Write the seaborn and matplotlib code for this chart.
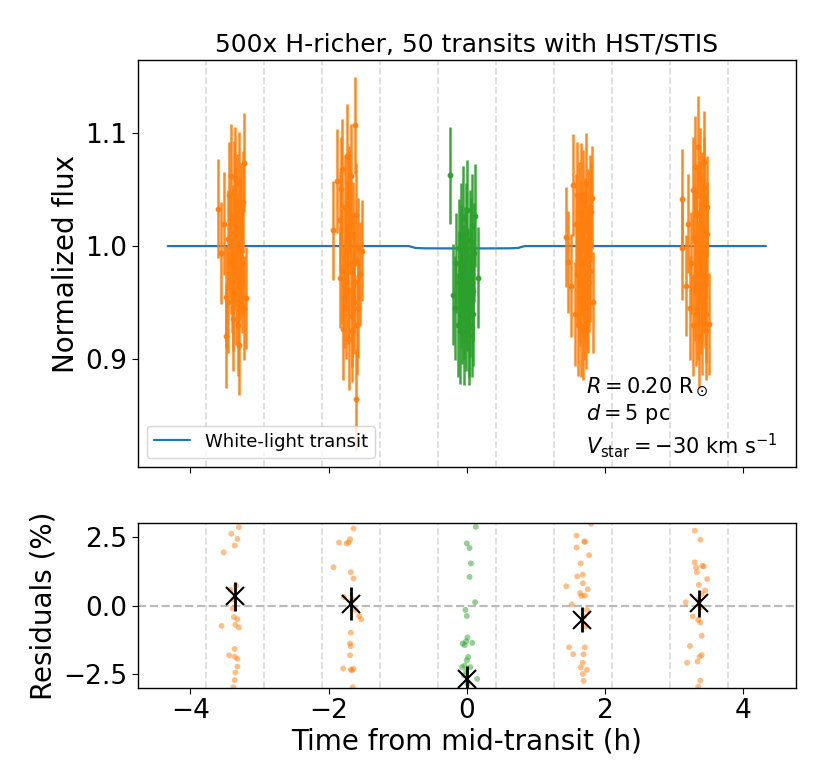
import numpy as np
import pandas as pd
import matplotlib
matplotlib.use("Agg")
import matplotlib.pyplot as plt
import seaborn as sns

# ---------------- data ----------------
title = "500x H-richer, 50 transits with HST/STIS"

# white-light transit model
t_model = [-4.33, -0.84, -0.74, -0.60, 0.00, 0.60, 0.74, 0.84, 4.33]
f_model = [1.0000, 1.0000, 0.9983, 0.9980, 0.9979, 0.9980, 0.9983, 1.0000, 1.0000]

# orbit boundaries (dashed lines)
boundaries = [-3.78, -2.94, -2.10, -1.26, -0.42, 0.42, 1.26, 2.10, 2.94, 3.78]

# orbit 1
t1 = [-3.60, -3.56, -3.51, -3.48, -3.48, -3.46, -3.46, -3.44, -3.42, -3.41, -3.40, -3.39, -3.38, -3.37, -3.36,
      -3.35, -3.34, -3.33, -3.32, -3.31, -3.30, -3.30, -3.29, -3.28, -3.27, -3.26, -3.24, -3.23, -3.22, -3.20,
      -3.43, -3.39, -3.35, -3.31, -3.27, -3.25]
f1 = [1.033, 0.994, 1.020, 0.955, 0.920, 1.006, 0.950, 1.045, 0.985, 1.062, 0.968, 1.010, 0.935, 1.048, 0.990,
      1.025, 0.958, 1.038, 1.002, 0.972, 0.912, 1.056, 0.980, 1.015, 0.996, 0.969, 1.039, 1.074, 0.945, 0.954,
      1.000, 0.952, 1.060, 0.930, 1.030, 0.985]
e1 = [0.044, 0.045, 0.046, 0.045, 0.046, 0.044, 0.045, 0.047, 0.045, 0.046, 0.045, 0.044, 0.046, 0.045, 0.047,
      0.045, 0.046, 0.044, 0.045, 0.046, 0.044, 0.045, 0.046, 0.045, 0.044, 0.046, 0.045, 0.044, 0.046, 0.045,
      0.046, 0.045, 0.046, 0.045, 0.044, 0.046]

# orbit 2
t2 = [-1.93, -1.88, -1.84, -1.83, -1.82, -1.81, -1.80, -1.79, -1.77, -1.76, -1.75, -1.74, -1.73, -1.72, -1.71,
      -1.70, -1.69, -1.68, -1.67, -1.66, -1.65, -1.64, -1.63, -1.62, -1.61, -1.60, -1.59, -1.57, -1.55, -1.52,
      -1.78, -1.74, -1.70, -1.66, -1.63, -1.58]
f2 = [1.014, 1.058, 0.972, 1.023, 1.051, 1.068, 0.978, 0.926, 1.035, 0.990, 0.945, 1.080, 1.002, 0.960, 1.045,
      0.918, 1.020, 0.985, 1.062, 0.938, 1.010, 0.968, 0.950, 1.107, 0.864, 1.028, 0.930, 0.998, 0.975, 0.996,
      0.955, 1.012, 1.040, 0.925, 0.985, 0.945]
e2 = [0.044, 0.046, 0.045, 0.044, 0.046, 0.045, 0.047, 0.045, 0.046, 0.044, 0.045, 0.046, 0.045, 0.047, 0.044,
      0.046, 0.045, 0.044, 0.046, 0.045, 0.047, 0.045, 0.046, 0.043, 0.045, 0.046, 0.044, 0.045, 0.046, 0.045,
      0.045, 0.046, 0.044, 0.046, 0.045, 0.044]

# orbit 3 (in transit)
t3 = [-0.24, -0.20, -0.17, -0.15, -0.13, -0.12, -0.11, -0.10, -0.09, -0.08, -0.07, -0.06, -0.05, -0.04, -0.03,
      -0.02, -0.01, 0.00, 0.01, 0.02, 0.03, 0.04, 0.05, 0.06, 0.07, 0.08, 0.09, 0.10, 0.12, 0.16,
      -0.085, -0.045, -0.015, 0.025, 0.055, 0.085]
f3 = [1.063, 0.957, 0.945, 0.985, 0.930, 0.968, 0.998, 0.925, 0.955, 1.010, 0.940, 0.975, 1.025, 0.922, 0.962,
      0.990, 0.935, 1.032, 0.952, 0.970, 0.921, 1.005, 0.948, 0.980, 0.928, 1.018, 0.960, 0.994, 1.027, 0.972,
      0.990, 0.945, 1.012, 0.930, 0.998, 0.940]
e3 = [0.043, 0.045, 0.046, 0.044, 0.046, 0.045, 0.044, 0.047, 0.045, 0.046, 0.045, 0.044, 0.046, 0.045, 0.047,
      0.045, 0.046, 0.044, 0.045, 0.046, 0.044, 0.045, 0.046, 0.045, 0.044, 0.046, 0.045, 0.044, 0.046, 0.045,
      0.046, 0.045, 0.044, 0.046, 0.045, 0.046]

# orbit 4
t4 = [1.43, 1.47, 1.51, 1.54, 1.56, 1.58, 1.59, 1.60, 1.61, 1.62, 1.63, 1.64, 1.65, 1.66, 1.67,
      1.68, 1.69, 1.70, 1.71, 1.72, 1.73, 1.74, 1.75, 1.76, 1.77, 1.78, 1.79, 1.80, 1.81, 1.83,
      1.625, 1.655, 1.685, 1.715, 1.745, 1.775]
f4 = [1.008, 0.986, 0.965, 1.054, 0.940, 1.020, 0.975, 1.045, 0.930, 0.998, 1.030, 0.955, 1.012, 0.929, 0.985,
      1.040, 0.945, 1.005, 0.962, 1.056, 0.935, 0.990, 1.022, 0.950, 0.968, 1.035, 0.978, 1.030, 1.043, 0.950,
      0.960, 1.045, 0.925, 1.015, 0.955, 0.990]
e4 = [0.044, 0.045, 0.046, 0.045, 0.046, 0.044, 0.045, 0.047, 0.045, 0.046, 0.045, 0.044, 0.046, 0.045, 0.047,
      0.045, 0.046, 0.044, 0.045, 0.044, 0.044, 0.045, 0.046, 0.045, 0.044, 0.046, 0.045, 0.044, 0.046, 0.045,
      0.045, 0.046, 0.044, 0.045, 0.046, 0.045]

# orbit 5
t5 = [3.11, 3.12, 3.17, 3.20, 3.23, 3.25, 3.27, 3.28, 3.29, 3.30, 3.31, 3.32, 3.33, 3.34, 3.35,
      3.36, 3.37, 3.38, 3.39, 3.40, 3.41, 3.42, 3.43, 3.44, 3.45, 3.46, 3.47, 3.48, 3.48, 3.51,
      3.315, 3.345, 3.375, 3.405, 3.435, 3.465]
f5 = [1.042, 0.998, 0.965, 1.020, 0.945, 0.985, 1.050, 0.930, 1.008, 0.960, 1.070, 0.940, 1.028, 0.975, 1.088,
      0.920, 1.060, 0.995, 0.950, 1.038, 0.933, 1.015, 0.970, 1.052, 0.955, 1.000, 0.925, 1.035, 1.011, 0.931,
      1.005, 0.945, 1.030, 0.962, 1.075, 0.940]
e5 = [0.044, 0.046, 0.045, 0.044, 0.046, 0.045, 0.047, 0.045, 0.046, 0.044, 0.045, 0.046, 0.045, 0.047, 0.045,
      0.046, 0.045, 0.044, 0.046, 0.045, 0.047, 0.045, 0.046, 0.045, 0.045, 0.046, 0.044, 0.045, 0.046, 0.045,
      0.045, 0.046, 0.044, 0.046, 0.045, 0.044]

# residuals (%)
rt1 = [-3.30, -3.41, -3.32, -3.36, -3.52, -3.34, -3.42, -3.38, -3.39, -3.37, -3.32, -3.55, -3.35, -3.30,
       -3.36, -3.44, -3.36, -3.32, -3.32, -3.35, -3.36, -3.38]
rr1 = [2.85, 2.61, 2.42, 2.18, 1.93, 0.72, 0.57, 0.23, -0.11, -0.42, -0.50, -0.74, -0.70, -0.80,
       -1.58, -1.81, -1.86, -1.94, -2.22, -2.44, -2.71, -2.97]
rt2 = [-1.64, -1.69, -1.71, -1.85, -1.74, -1.93, -1.68, -1.64, -1.78, -1.66, -1.61, -1.56, -1.53, -1.68,
       -1.69, -1.68, -1.69, -1.79, -1.68, -1.66, -1.64, -1.65]
rr2 = [2.80, 2.41, 2.29, 2.29, 2.26, 1.39, 1.21, 0.98, 0.31, 0.23, -0.16, -0.38, -0.50, -0.99,
       -1.38, -1.48, -1.81, -2.29, -2.33, -2.36, -2.30, -2.97]
rt3 = [0.13, 0.00, 0.04, 0.06, 0.04, 0.12, -0.02, 0.00, 0.01, -0.01, -0.06, 0.08, -0.03, 0.02,
       0.00, -0.03, -0.07, 0.05, -0.01, 0.15, 0.01, -0.04]
rr3 = [2.86, 2.26, 2.09, 1.53, 1.04, 0.12, -0.16, -0.38, -1.16, -1.30, -1.38, -1.36, -1.44, -1.87,
       -1.99, -2.18, -2.24, -2.24, -2.38, -2.67, -2.85, -2.54]
rt4 = [1.80, 1.59, 1.70, 1.71, 1.59, 1.77, 1.65, 1.68, 1.60, 1.68, 1.44, 1.75, 1.64, 1.66, 1.71,
       1.52, 1.74, 1.70, 1.72, 1.48, 1.71, 1.54, 1.69, 1.68, 1.65, 1.74, 1.68, 1.69]
rr4 = [2.97, 2.54, 2.33, 2.31, 2.11, 1.83, 1.53, 1.12, 1.06, 0.81, 0.70, 0.59, 0.45, 0.35, 0.36,
       0.04, -0.16, -0.40, -0.76, -1.52, -1.52, -1.77, -1.77, -2.08, -2.25, -2.34, -2.49, -2.74]
rt5 = [3.30, 3.38, 3.30, 3.32, 3.41, 3.43, 3.33, 3.48, 3.36, 3.45, 3.40, 3.17, 3.35, 3.39,
       3.27, 3.35, 3.38, 3.40, 3.23, 3.40, 3.37, 3.34, 3.19, 3.38, 3.35]
rr5 = [2.72, 2.39, 1.57, 1.38, 1.44, 1.42, 1.21, 0.96, 0.75, 0.55, 0.42, 0.12, 0.21, -0.06,
       -0.40, -0.52, -0.62, -1.10, -1.47, -1.80, -1.86, -2.04, -2.08, -2.73, -2.95]

# binned residuals per orbit
bin_t = [-3.36, -1.68, 0.00, 1.67, 3.36]
bin_r = [0.33, 0.06, -2.66, -0.52, 0.08]
bin_e = [0.52, 0.60, 0.46, 0.46, 0.50]

# ---------------- style ----------------
sns.set_style("ticks")
plt.rcParams['font.family'] = ['DejaVu Sans']
plt.rcParams['mathtext.fontset'] = 'dejavusans'
for k in ['text.color', 'axes.labelcolor', 'xtick.color', 'ytick.color', 'axes.edgecolor']:
    plt.rcParams[k] = 'black'

ORANGE = '#ff7f0e'
GREEN = '#2ca02c'
BLUE = '#1f77b4'

fig = plt.figure(figsize=(8.3, 7.84), dpi=100)
ax1 = fig.add_axes([0.166, 0.4043, 0.7928, 0.5191])
ax2 = fig.add_axes([0.166, 0.1224, 0.7928, 0.2105], sharex=ax1)

for ax in (ax1, ax2):
    for b in boundaries:
        ax.axvline(b, color='#dddddd', ls='--', lw=1.3, zorder=0)

model_df = pd.DataFrame({"t": t_model, "f": f_model})
sns.lineplot(data=model_df, x="t", y="f", ax=ax1, color=BLUE, lw=1.6, label="White-light transit", zorder=1)

groups = [(t1, f1, e1, ORANGE), (t2, f2, e2, ORANGE), (t3, f3, e3, GREEN),
          (t4, f4, e4, ORANGE), (t5, f5, e5, ORANGE)]
for t, f, e, c in groups:
    ax1.errorbar(t, f, yerr=e, fmt='o', ms=3.2, color=c, ecolor=c, elinewidth=1.8, alpha=0.92, zorder=2)

ax1.set_xlim(-4.763, 4.763)
ax1.set_ylim(0.804, 1.165)
ax1.set_yticks([0.9, 1.0, 1.1])
ax1.set_ylabel("Normalized flux", fontsize=20)
ax1.set_xlabel("")
ax1.set_title(title, fontsize=18)
ax1.tick_params(labelbottom=False, labelsize=19, length=4)
leg = ax1.legend(loc='lower left', fontsize=13, frameon=True, handlelength=2.0)
ax1.text(1.72, 0.885,
         "$R = 0.20$ R$_\\odot$\n$d = 5$ pc\n$V_\\mathrm{star} = -30$ km s$^{-1}$",
         fontsize=15, va='top', ha='left', linespacing=1.2)

# residuals
ax2.axhline(0, color='#bbbbbb', ls='--', lw=1.6, zorder=1)
res_sets = [(rt1, rr1, ORANGE), (rt2, rr2, ORANGE), (rt3, rr3, GREEN), (rt4, rr4, ORANGE), (rt5, rr5, ORANGE)]
for rt, rr, c in res_sets:
    sns.scatterplot(x=rt, y=rr, ax=ax2, color=c, alpha=0.5, s=18, edgecolor='none', zorder=2)
ax2.errorbar(bin_t, bin_r, yerr=bin_e, fmt='x', color='k', ms=13, mew=1.5, elinewidth=2, zorder=4)

ax2.set_ylim(-3, 3)
ax2.set_yticks([-2.5, 0.0, 2.5])
ax2.set_xticks([-4, -2, 0, 2, 4])
ax2.set_ylabel("Residuals (%)", fontsize=20)
ax2.set_xlabel("Time from mid-transit (h)", fontsize=20, labelpad=2)
ax2.tick_params(labelsize=19, length=4)

for ax in (ax1, ax2):
    for s in ax.spines.values():
        s.set_visible(True)
        s.set_linewidth(1.0)
        s.set_color('black')

fig.savefig("out.png", dpi=100)
